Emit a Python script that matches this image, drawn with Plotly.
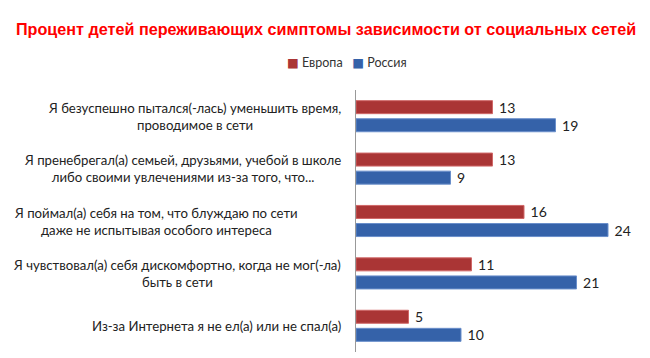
import plotly.graph_objects as go

categories = [
    "Я безуспешно пытался(-лась) уменьшить время,<br>проводимое в сети",
    "Я пренебрегал(а) семьей, друзьями, учебой в школе<br>либо своими увлечениями из-за того, что...",
    "Я поймал(а) себя на том, что блуждаю по сети<br>даже не испытывая особого интереса",
    "Я чувствовал(а) себя дискомфортно, когда не мог(-ла)<br>быть в сети",
    "Из-за Интернета я не ел(а) или не спал(а)",
]
europe = [13, 13, 16, 11, 5]
russia = [19, 9, 24, 21, 10]
series_names = ["Европа", "Россия"]
title_text = "Процент детей переживающих симптомы зависимости от социальных сетей"

FONT = "Lato"
COLORS = ["#AA3535", "#3562A9"]
EDGES = ["#D06868", "#6A8FCB"]
# horizontal pixel shift of each category label (style only)
label_shift = [-13, -13, -56, -13, -13]

W, H = 642, 350
ML, MR, MT, MB = 348, 0, 82, 6
PW, PH = W - ML - MR, H - MT - MB

fig = go.Figure()
for name, vals, col, edge in zip(series_names, [europe, russia], COLORS, EDGES):
    fig.add_trace(go.Bar(
        y=categories, x=vals, orientation="h", name=name,
        marker=dict(color=col, line=dict(color=edge, width=1)),
        text=vals, texttemplate="\u00a0%{x}", textposition="outside", cliponaxis=False,
        constraintext="none",
        textfont=dict(family=FONT, size=14, color="#222222"),
    ))

for c, sh in zip(categories, label_shift):
    fig.add_annotation(
        x=0, xref="paper", y=c, yref="y", text=c, showarrow=False,
        xanchor="right", xshift=sh, align="center",
        font=dict(family=FONT, size=13.2, color="#222222"),
    )

legend_text = "\u00a0\u00a0\u00a0".join(
    f"<span style='color:{col};font-family:DejaVu Sans'>■</span> {name}"
    for name, col in zip(series_names, COLORS)
)
fig.add_annotation(
    x=(339 - ML) / PW, xref="paper", y=1 + (MT - 54) / PH, yref="paper",
    text=legend_text, showarrow=False, xanchor="center", yanchor="middle",
    font=dict(family=FONT, size=12.5, color="#333333"),
)

fig.update_layout(
    width=W, height=H,
    paper_bgcolor="white", plot_bgcolor="white",
    margin=dict(l=ML, r=MR, t=MT, b=MB, autoexpand=False),
    barmode="group", bargap=0.31, bargroupgap=0.28,
    title=dict(text=title_text, x=318 / W, xref="container", xanchor="center",
               y=1 - 21 / H, yanchor="middle",
               font=dict(family="Liberation Sans", size=16.2, color="#FF0000", weight="bold")),
    showlegend=False,
)
fig.update_xaxes(range=[0, 28], showgrid=False, showticklabels=False, zeroline=False,
                 showline=False, ticks="")
fig.update_yaxes(autorange="reversed", showticklabels=False, showgrid=False,
                 showline=True, linecolor="#999999", linewidth=1, ticks="")

fig.write_html("out.html")
